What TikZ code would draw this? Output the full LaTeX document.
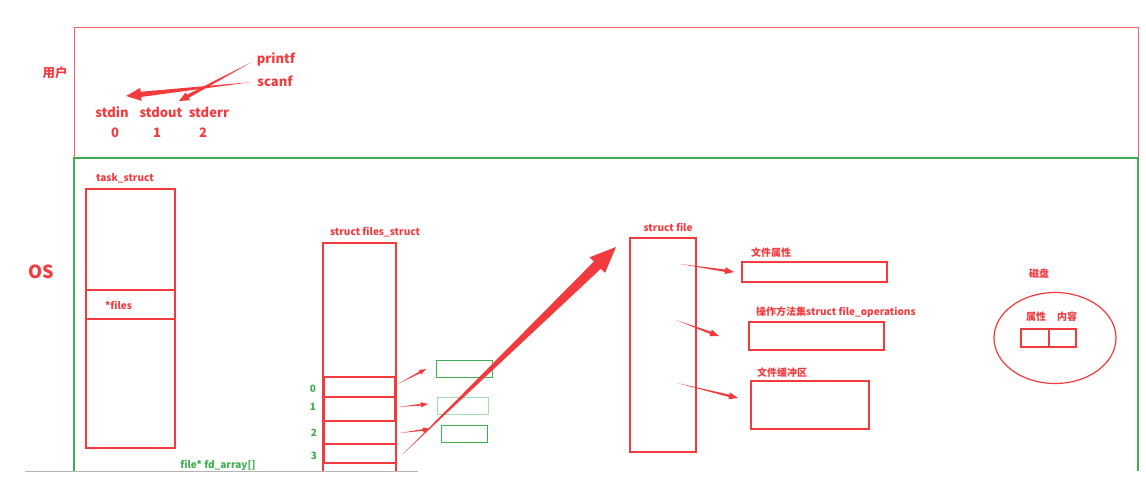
\documentclass[tikz,border=0pt]{standalone}
\usepackage{fontspec}
\setmainfont{Noto Sans CJK SC}
\usetikzlibrary{calc, shapes.geometric}
\definecolor{rot}{HTML}{F23B3F}
\definecolor{gruen}{HTML}{3DAF4E}
\definecolor{hellgruen}{HTML}{A3DCAD}
\definecolor{grau}{HTML}{B4B4B4}

% tapered hand-drawn arrow: from, to, shaft half width, head half width, head length
\newcommand\keilpfeil[5]{%
  \path ($(#2)!#5!(#1)$) coordinate (kp-h);
  \fill[rot] (#1) -- ($(kp-h)!#3!90:(#1)$) -- ($(kp-h)!#4!90:(#1)$) -- (#2)
    -- ($(kp-h)!#4!-90:(#1)$) -- ($(kp-h)!#3!-90:(#1)$) -- cycle;}

\begin{document}
\begin{tikzpicture}[x=1pt, y=-1pt,
    txt/.style={text=rot, font=\bfseries\fontsize{13}{13}\selectfont, inner sep=0pt},
    klein/.style={text=rot, font=\bfseries\fontsize{10}{10}\selectfont, inner sep=0pt},
    gtxt/.style={text=gruen, font=\bfseries\fontsize{10}{10}\selectfont, inner sep=0pt},
    box/.style={draw=rot, line width=1.2pt, inner sep=0pt},
    dickbox/.style={draw=rot, line width=2.6pt, inner sep=0pt},
    gbox/.style={draw=gruen, line width=0.9pt, inner sep=0pt}]
      \useasboundingbox[fill=white] (0,0) rectangle (1146,477);

      % Bereiche
      \draw[rot!80, line width=0.8pt] (74,158) -- (74,27) -- (1138,27) -- (1138,158);
      \draw[gruen, line width=1.2pt] (74,471) -- (74,158) -- (1138,158) -- (1138,471);
      \draw[grau, line width=1pt] (25,471) -- (418,471);
      \node[text=rot, font=\bfseries\fontsize{12.5}{12.5}\selectfont] (user) at (55,73) {用户};
      \node[text=rot, font=\bfseries\fontsize{18}{18}\selectfont] (os) at (41,272) {OS};

      % Benutzerraum
      \node[txt] (printf) at (276,59) {printf};
      \node[txt] (scanf) at (275,81) {scanf};
      \node[txt] (stdin) at (112,112) {stdin};
      \node[txt] (stdout) at (161,112) {stdout};
      \node[txt] (stderr) at (209,112) {stderr};
      \node[txt] (n0) at (115,133) {0};
      \node[txt] (n1) at (157,133) {1};
      \node[txt] (n2) at (203,133) {2};
      \coordinate (scanf-a) at (252,82);
      \coordinate (stdin-e) at (126,96);
      \coordinate (printf-a) at (252,62);
      \coordinate (stdout-e) at (179,101);
      \keilpfeil{scanf-a}{stdin-e}{2.6pt}{6.5pt}{15pt}
      \keilpfeil{printf-a}{stdout-e}{1.8pt}{4.5pt}{10pt}

      % task_struct
      \node[klein] (tasklbl) at (125,178) {task\_struct};
      \node[box, minimum width=89pt, minimum height=259pt] (task) at (130.5,318.5) {};
      \node[box, minimum width=89pt, minimum height=29pt] (files) at (130.5,304.5) {};
      \node[klein, anchor=west] (fileslbl) at (105,305) {*files};

      % files_struct
      \node[klein] (fslbl) at (375,232) {struct files\_struct};
      \draw[rot, line width=1.2pt] (323,471) -- (323,243) -- (396,243) -- (396,471);
      \node[box, minimum width=71pt, minimum height=20pt] (fd0) at (359.5,387) {};
      \node[box, minimum width=72pt, minimum height=19pt] (fd3) at (360,453.5) {};
      \node[dickbox, minimum width=71pt, minimum height=24pt] (fd1) at (359.5,409) {};
      \node[dickbox, minimum width=72pt, minimum height=23pt] (fd2) at (360,432.5) {};
      \node[gtxt] (i0) at (313,389) {0};
      \node[gtxt] (i1) at (313,407) {1};
      \node[gtxt] (i2) at (314,433) {2};
      \node[gtxt] (i3) at (314,456) {3};
      \node[gtxt] (fdarr) at (218,465) {file* fd\_array[]};

      % weitere Eintraege
      \node[gbox, minimum width=56pt, minimum height=17pt] (g0) at (464,368.5) {};
      \node[gbox, draw=hellgruen, minimum width=51pt, minimum height=17pt] (g1) at (462.5,405.5) {};
      \node[gbox, minimum width=46pt, minimum height=17pt] (g2) at (464,433.5) {};
      \coordinate (p0) at (398,384);  \coordinate (q0) at (426,369);
      \coordinate (p1) at (398,407);  \coordinate (q1) at (428,404);
      \coordinate (p2) at (400,433);  \coordinate (q2) at (430,429);
      \keilpfeil{p0}{q0}{0.9pt}{2.6pt}{7pt}
      \keilpfeil{p1}{q1}{0.9pt}{2.6pt}{7pt}
      \keilpfeil{p2}{q2}{0.9pt}{2.6pt}{7pt}

      % struct file
      \node[klein] (filelbl) at (668,227) {struct file};
      \node[box, minimum width=66pt, minimum height=214pt] (file) at (663,345) {};
      \coordinate (p3) at (402,455);  \coordinate (q3) at (616,247);
      \keilpfeil{p3}{q3}{5pt}{11pt}{26pt}

      \node[box, minimum width=145pt, minimum height=20pt] (attr) at (814.5,272) {};
      \node[klein, anchor=west] (attrlbl) at (751,253) {文件属性};
      \node[box, minimum width=135pt, minimum height=28pt] (ops) at (816.5,336) {};
      \node[klein, anchor=west] (opslbl) at (756,312) {操作方法集struct file\_operations};
      \node[box, minimum width=118pt, minimum height=48pt] (buf) at (810,405) {};
      \node[klein, anchor=west] (buflbl) at (757,373) {文件缓冲区};
      \coordinate (p4) at (680,264);  \coordinate (q4) at (734,272);
      \coordinate (p5) at (676,320);  \coordinate (q5) at (719,336);
      \coordinate (p6) at (677,383);  \coordinate (q6) at (738,398);
      \keilpfeil{p4}{q4}{1.2pt}{3.5pt}{9pt}
      \keilpfeil{p5}{q5}{1.2pt}{3.5pt}{9pt}
      \keilpfeil{p6}{q6}{1.2pt}{3.5pt}{9pt}

      % Festplatte
      \node[klein] (disklbl) at (1039,274) {磁盘};
      \node[draw=rot, line width=1.2pt, ellipse, minimum width=122pt, minimum height=91pt] (disk) at (1055,338) {};
      \node[klein] (dattr) at (1036,317) {属性};
      \node[klein] (dinh) at (1067,317) {内容};
      \node[box, minimum width=28pt, minimum height=18pt] (d1) at (1035,338) {};
      \node[box, minimum width=27pt, minimum height=18pt] (d2) at (1062.5,338) {};
    \end{tikzpicture}
\end{document}
